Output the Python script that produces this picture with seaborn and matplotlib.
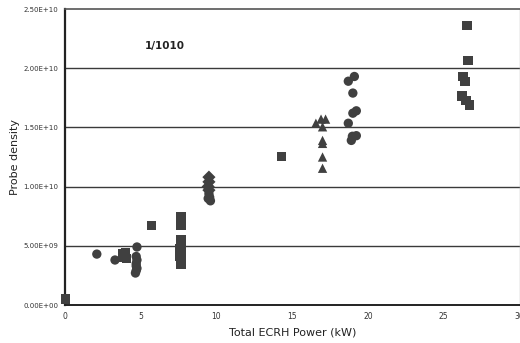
import matplotlib
matplotlib.use("Agg")
import matplotlib.pyplot as plt
import seaborn as sns
import pandas as pd
import numpy as np

# ---- data ----
circle_x = [2.1, 3.3, 4.75, 4.7, 4.75, 4.7, 4.7, 4.75, 4.7, 4.65,
            9.5, 9.55, 9.45, 9.6,
            18.7, 19.1, 19.0, 19.0, 19.23, 18.7, 18.9, 18.97, 19.23]
circle_y = [4.3e9, 3.8e9, 4.9e9, 4.1e9, 3.8e9, 3.5e9, 3.3e9, 3.1e9, 2.9e9, 2.7e9,
            9.4e9, 9.1e9, 9.0e9, 8.8e9,
            1.89e10, 1.93e10, 1.79e10, 1.62e10, 1.64e10, 1.535e10, 1.39e10, 1.425e10, 1.43e10]

square_x = [0.05, 3.8, 4.0, 3.9, 4.05, 5.7,
            7.65, 7.65, 7.65, 7.65, 7.6, 7.65, 7.6, 7.65, 7.65,
            14.3,
            26.53, 26.6, 26.27, 26.4, 26.2, 26.47, 26.7]
square_y = [5.0e8, 4.3e9, 4.45e9, 4.05e9, 3.9e9, 6.7e9,
            7.5e9, 6.7e9, 5.5e9, 5.2e9, 4.8e9, 4.4e9, 4.1e9, 3.7e9, 3.4e9,
            1.255e10,
            2.36e10, 2.065e10, 1.93e10, 1.89e10, 1.765e10, 1.73e10, 1.69e10]

triangle_x = [16.56, 16.9, 17.2, 17.0, 17.0, 17.0, 17.0, 17.0]
triangle_y = [1.535e10, 1.57e10, 1.57e10, 1.505e10, 1.39e10, 1.365e10, 1.25e10, 1.155e10]

diamond_x = [9.5, 9.5, 9.45, 9.5]
diamond_y = [1.08e10, 1.04e10, 1.0e10, 9.7e9]

x_ticks = [0, 5, 10, 15, 20, 25, 30]
y_ticks = [0, 5e9, 1e10, 1.5e10, 2e10, 2.5e10]
y_tick_labels = ["0.00E+00", "5.00E+09", "1.00E+10", "1.50E+10", "2.00E+10", "2.50E+10"]

df = pd.concat([
    pd.DataFrame({"power": circle_x, "density": circle_y, "kind": "circle"}),
    pd.DataFrame({"power": square_x, "density": square_y, "kind": "square"}),
    pd.DataFrame({"power": triangle_x, "density": triangle_y, "kind": "triangle"}),
    pd.DataFrame({"power": diamond_x, "density": diamond_y, "kind": "diamond"}),
], ignore_index=True)

sns.set_style("white")
plt.rcParams["font.family"] = ["DejaVu Sans"]

fig = plt.figure(figsize=(5.2, 3.43), dpi=100)
W, H = 520, 343
left, right, top, bottom = 65, 519.5, 9, 305
ax = fig.add_axes([left / W, 1 - bottom / H, (right - left) / W, (bottom - top) / H])

for y in [5e9, 1e10, 1.5e10, 2e10]:
    ax.axhline(y, color="#3a3a3a", lw=1.0, zorder=0)

sns.scatterplot(data=df, x="power", y="density", style="kind",
                markers={"circle": "o", "square": "s", "triangle": "^", "diamond": "D"},
                color="#404040", edgecolor="none", s=45, legend=False, ax=ax, zorder=3,
                clip_on=False)

ax.set_xlim(0, 30)
ax.set_ylim(0, 2.5e10)
ax.set_xticks(x_ticks)
ax.set_xticklabels([str(t) for t in x_ticks], fontsize=5.5, color="#333333")
ax.set_yticks(y_ticks)
ax.set_yticklabels(y_tick_labels, fontsize=5, color="#333333")
ax.tick_params(axis="both", direction="out", length=3, width=0.8, pad=2, colors="#333333")

for name, sp in ax.spines.items():
    sp.set_visible(True)
ax.spines["left"].set_color("#222222")
ax.spines["left"].set_linewidth(1.6)
ax.spines["bottom"].set_color("#222222")
ax.spines["bottom"].set_linewidth(1.4)
ax.spines["top"].set_color("#555555")
ax.spines["top"].set_linewidth(1.2)
ax.spines["right"].set_color("#bbbbbb")
ax.spines["right"].set_linewidth(1.0)

ax.set_xlabel("Total ECRH Power (kW)", fontsize=8, color="#222222", labelpad=5)
ax.set_ylabel("Probe density", fontsize=8, color="#222222", labelpad=2)

ax.text(5.3, 2.19e10, "1/1010", fontsize=7.5, fontweight="bold", color="#222222",
        ha="left", va="center")

fig.savefig("out.png", dpi=100)
